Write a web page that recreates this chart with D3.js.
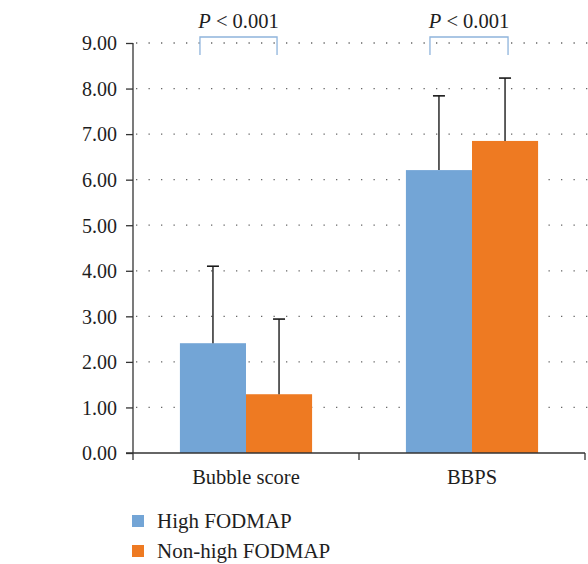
<!DOCTYPE html>
<html><head><meta charset="utf-8">
<script src="https://cdn.jsdelivr.net/npm/d3@7"></script>
<style>body{margin:0;background:#fff}svg{display:block}text{font-family:"Liberation Serif","DejaVu Serif",serif;fill:#1e1e1e}</style>
</head><body>
<script>
const categories = ["Bubble score", "BBPS"];
const seriesNames = ["High FODMAP", "Non-high FODMAP"];
const highMean = [2.41, 6.21];
const highSD = [1.69, 1.63];
const nonHighMean = [1.29, 6.85];
const nonHighSD = [1.65, 1.38];
const yTicks = [0, 1, 2, 3, 4, 5, 6, 7, 8, 9];
const pLabels = ["P < 0.001", "P < 0.001"];
const colors = ["#73a5d6", "#ee7a22"];

const W = 588, H = 564;
const m = {left: 133, right: 3, top: 43, bottom: 111};
const svg = d3.select("body").append("svg").attr("width", W).attr("height", H);

const x = d3.scaleBand().domain(categories).range([m.left, W - m.right]);
const x1 = d3.scaleBand().domain(seriesNames).range([0, x.bandwidth()]).paddingOuter(0.71);
const y = d3.scaleLinear().domain([0, 9]).range([H - m.bottom, m.top]);

// grid
svg.append("g").selectAll("line").data(yTicks.filter(d => d > 0)).join("line")
  .attr("x1", m.left + 3).attr("x2", W).attr("y1", d => y(d)).attr("y2", d => y(d))
  .attr("stroke", "#666").attr("stroke-width", 1.3).attr("stroke-dasharray", "1.3,11.2");

const data = categories.map((c, i) => ({c, vals: [
  {s: seriesNames[0], m: highMean[i], sd: highSD[i]},
  {s: seriesNames[1], m: nonHighMean[i], sd: nonHighSD[i]}]}));

const g = svg.append("g").selectAll("g").data(data).join("g")
  .attr("transform", d => `translate(${x(d.c)},0)`);
g.selectAll("rect").data(d => d.vals).join("rect")
  .attr("x", d => x1(d.s)).attr("width", x1.bandwidth())
  .attr("y", d => y(d.m)).attr("height", d => y(0) - y(d.m))
  .attr("fill", (d, i) => colors[i]);
// error bars
const eb = g.selectAll("g.eb").data(d => d.vals).join("g").attr("class", "eb");
eb.append("line").attr("x1", d => x1(d.s) + x1.bandwidth() / 2).attr("x2", d => x1(d.s) + x1.bandwidth() / 2)
  .attr("y1", d => y(d.m)).attr("y2", d => y(d.m + d.sd)).attr("stroke", "#1a1a1a").attr("stroke-width", 1.4);
eb.append("line").attr("x1", d => x1(d.s) + x1.bandwidth() / 2 - 6).attr("x2", d => x1(d.s) + x1.bandwidth() / 2 + 6)
  .attr("y1", d => y(d.m + d.sd)).attr("y2", d => y(d.m + d.sd)).attr("stroke", "#1a1a1a").attr("stroke-width", 1.6);

// brackets
g.each(function(d, i) {
  const sel = d3.select(this);
  const xa = x1(seriesNames[0]) + x1.bandwidth() / 2 - 13 + i * 4;
  const xb = x1(seriesNames[1]) + x1.bandwidth() / 2 - 2 + i * 5;
  const yt = y(9) - 6;
  sel.append("path").attr("d", `M${xa},${yt + 18}V${yt}H${xb}V${yt + 18}`)
    .attr("fill", "none").attr("stroke", "#8fb4dc").attr("stroke-width", 1.3);
  const t = sel.append("text").attr("x", (xa + xb) / 2).attr("y", yt - 9)
    .attr("text-anchor", "middle").attr("font-size", 20.5);
  t.append("tspan").attr("font-style", "italic").text(pLabels[i].split(" ")[0]);
  t.append("tspan").text(" " + pLabels[i].split(" ").slice(1).join(" "));
});

// y axis
const ya = svg.append("g").attr("transform", `translate(${m.left},0)`)
  .call(d3.axisLeft(y).tickValues(yTicks).tickFormat(d3.format(".2f")).tickSize(7).tickPadding(9));
ya.select(".domain").attr("d", `M0,${y(9)}V${y(0) + 7}`).attr("stroke", "#333").attr("stroke-width", 1.3);
ya.selectAll(".tick line").attr("stroke", "#333").attr("stroke-width", 1.3);
ya.selectAll(".tick text").attr("font-size", 20).attr("fill", "#1e1e1e").attr("dy", "0.34em").style("font-family", "Liberation Serif, serif");

// x axis
const xa = svg.append("g").attr("transform", `translate(0,${y(0)})`);
xa.append("line").attr("x1", m.left - 7).attr("x2", W - m.right).attr("stroke", "#333").attr("stroke-width", 1.3);
xa.selectAll("line.t").data([x(categories[1]), W - m.right]).join("line").attr("class", "t")
  .attr("x1", d => d).attr("x2", d => d).attr("y1", 0).attr("y2", 7).attr("stroke", "#333").attr("stroke-width", 1.3);
xa.selectAll("text").data(categories).join("text")
  .attr("x", d => x(d) + x.bandwidth() / 2).attr("y", 31).attr("text-anchor", "middle")
  .attr("font-size", 20.5).text(d => d);

// legend
const lg = svg.append("g").selectAll("g").data(seriesNames).join("g")
  .attr("transform", (d, i) => `translate(132,${515 + i * 30})`);
lg.append("rect").attr("width", 12).attr("height", 12).attr("fill", (d, i) => colors[i]);
lg.append("text").attr("x", 25).attr("y", 13).attr("font-size", 21).text(d => d);
</script>
</body></html>
